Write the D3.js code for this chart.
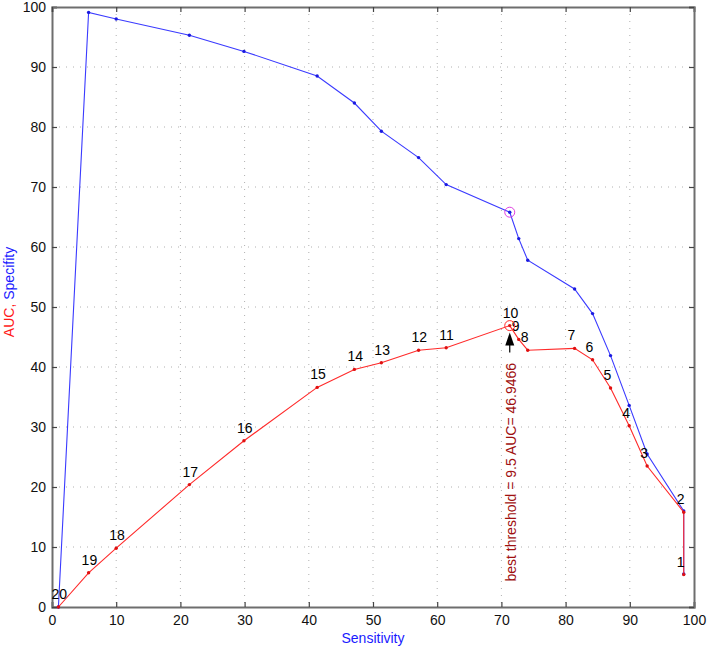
<!DOCTYPE html>
<html>
<head>
<meta charset="utf-8">
<script src="https://cdn.jsdelivr.net/npm/d3@7"></script>
<style>
  body { margin: 0; background: #fff; }
  text { font-family: "Liberation Sans", Arial, sans-serif; }
</style>
</head>
<body>
<div id="chart"></div>
<script>
// Threshold index 1..20 and the values
var thresholds = [1, 2, 3, 4, 5, 6, 7, 8, 9, 10, 11, 12, 13, 14, 15, 16, 17, 18, 19, 20];
var sensitivity = [98.4, 98.4, 92.7, 89.9, 87.0, 84.2, 81.4, 74.1, 72.7, 71.3, 61.4, 57.1, 51.3, 47.1, 41.3, 29.9, 21.4, 10.0, 5.7, 1.0];
var specificity = [5.5, 16.0, 25.5, 33.6, 41.9, 48.9, 53.0, 57.8, 61.4, 65.8, 70.4, 74.9, 79.3, 84.0, 88.5, 92.6, 95.3, 98.0, 99.1, 0];
var auc = [5.4, 15.8, 23.5, 30.2, 36.5, 41.2, 43.1, 42.8, 44.6, 46.9, 43.2, 42.8, 40.7, 39.6, 36.6, 27.7, 20.4, 9.8, 5.7, 0];
var xTicks = [0, 10, 20, 30, 40, 50, 60, 70, 80, 90, 100];
var yTicks = [0, 10, 20, 30, 40, 50, 60, 70, 80, 90, 100];
var bestIndex = 9; // threshold 10
var bestLabel = "best threshold = 9.5 AUC= 46.9466";

// Chart Params
var svgWidth = 708;
var svgHeight = 648;
var margin = { top: 7, right: 14, bottom: 41, left: 52 };
var width = svgWidth - margin.left - margin.right;
var height = svgHeight - margin.top - margin.bottom;

var blue = "#3a3aff";
var red = "#ff2a2a";

var svg = d3.select("#chart")
  .append("svg")
  .attr("width", svgWidth)
  .attr("height", svgHeight);

var chartGroup = svg.append("g")
  .attr("transform", `translate(${margin.left}, ${margin.top})`);

var x = d3.scaleLinear().domain([0, 100]).range([0, width]);
var y = d3.scaleLinear().domain([0, 100]).range([height, 0]);

var specData = thresholds.map((t, i) => ({ t: t, x: sensitivity[i], y: specificity[i] }));
var aucData = thresholds.map((t, i) => ({ t: t, x: sensitivity[i], y: auc[i] }));

// dotted grid
chartGroup.append("g")
  .selectAll("line")
  .data(xTicks.slice(1, -1))
  .enter().append("line")
  .attr("x1", d => x(d)).attr("x2", d => x(d))
  .attr("y1", 0).attr("y2", height)
  .attr("stroke", "#b0b0b0")
  .attr("stroke-width", 1)
  .attr("stroke-dasharray", "1,6");

chartGroup.append("g")
  .selectAll("line")
  .data(yTicks.slice(1, -1))
  .enter().append("line")
  .attr("y1", d => y(d)).attr("y2", d => y(d))
  .attr("x1", 0).attr("x2", width)
  .attr("stroke", "#b0b0b0")
  .attr("stroke-width", 1)
  .attr("stroke-dasharray", "1,6");

// axes (ticks inside, matlab style)
var bottomAxis = d3.axisBottom(x).tickValues(xTicks).tickSize(-5).tickPadding(8).tickFormat(d3.format("d"));
var leftAxis = d3.axisLeft(y).tickValues(yTicks).tickSize(-5).tickPadding(6).tickFormat(d3.format("d"));
var topAxis = d3.axisTop(x).tickValues(xTicks).tickSize(-5).tickFormat("");
var rightAxis = d3.axisRight(y).tickValues(yTicks).tickSize(-5).tickFormat("");

function styleAxis(g) {
  g.select(".domain").attr("stroke", "#6e6e6e").attr("stroke-width", 2);
  g.selectAll(".tick line").attr("stroke", "#444").attr("stroke-width", 1.2);
  g.selectAll(".tick text").attr("fill", "#111").style("font-size", "14px");
}

chartGroup.append("g").attr("transform", `translate(0, ${height})`).call(bottomAxis).call(styleAxis);
chartGroup.append("g").call(leftAxis).call(styleAxis);
chartGroup.append("g").call(topAxis).call(styleAxis);
chartGroup.append("g").attr("transform", `translate(${width}, 0)`).call(rightAxis).call(styleAxis);

// lines
var line = d3.line().x(d => x(d.x)).y(d => y(d.y));

chartGroup.append("path")
  .datum(specData)
  .attr("d", line)
  .attr("fill", "none")
  .attr("stroke", blue)
  .attr("stroke-width", 1.1);

chartGroup.selectAll(".specDot")
  .data(specData)
  .enter().append("circle")
  .attr("class", "specDot")
  .attr("cx", d => x(d.x))
  .attr("cy", d => y(d.y))
  .attr("r", 1.7)
  .attr("fill", "#1a1ae0");

chartGroup.append("path")
  .datum(aucData)
  .attr("d", line)
  .attr("fill", "none")
  .attr("stroke", red)
  .attr("stroke-width", 1.1);

chartGroup.selectAll(".aucDot")
  .data(aucData)
  .enter().append("circle")
  .attr("class", "aucDot")
  .attr("cx", d => x(d.x))
  .attr("cy", d => y(d.y))
  .attr("r", 1.7)
  .attr("fill", "#e01010");

// threshold labels
chartGroup.selectAll(".tLabel")
  .data(aucData)
  .enter().append("text")
  .attr("class", "tLabel")
  .attr("x", d => x(d.x) - 7)
  .attr("y", d => y(d.y) - 8)
  .attr("fill", "#000")
  .style("font-size", "14px")
  .text(d => d.t);

// best point circles
chartGroup.append("circle")
  .attr("cx", x(sensitivity[bestIndex]))
  .attr("cy", y(specificity[bestIndex]))
  .attr("r", 5)
  .attr("fill", "none")
  .attr("stroke", "#e040e0")
  .attr("stroke-width", 1);

chartGroup.append("circle")
  .attr("cx", x(sensitivity[bestIndex]))
  .attr("cy", y(auc[bestIndex]))
  .attr("r", 5)
  .attr("fill", "none")
  .attr("stroke", red)
  .attr("stroke-width", 1);

// arrow + annotation
var bx = x(sensitivity[bestIndex]);
var by = y(auc[bestIndex]);

chartGroup.append("line")
  .attr("x1", bx).attr("x2", bx)
  .attr("y1", by + 16).attr("y2", by + 27)
  .attr("stroke", "#000")
  .attr("stroke-width", 1.2);

chartGroup.append("path")
  .attr("d", `M${bx},${by + 7} L${bx - 4.5},${by + 20} L${bx + 4.5},${by + 20} Z`)
  .attr("fill", "#000");

chartGroup.append("text")
  .attr("transform", `translate(${bx + 6}, ${by + 256})rotate(-90)`)
  .attr("fill", "#a01010")
  .style("font-size", "14px")
  .text(bestLabel);

// axis titles
chartGroup.append("text")
  .attr("text-anchor", "middle")
  .attr("transform", `translate(${x(50)}, ${height + 36})`)
  .attr("fill", "#1a1aff")
  .style("font-size", "14px")
  .text("Sensitivity");

var yTitle = chartGroup.append("text")
  .attr("text-anchor", "middle")
  .attr("transform", `translate(-38, ${y(52.5)})rotate(-90)`)
  .style("font-size", "14px");
yTitle.append("tspan").attr("fill", "#ff1a1a").text("AUC, ");
yTitle.append("tspan").attr("fill", "#1a1aff").text("Specifity");
</script>
</body>
</html>
